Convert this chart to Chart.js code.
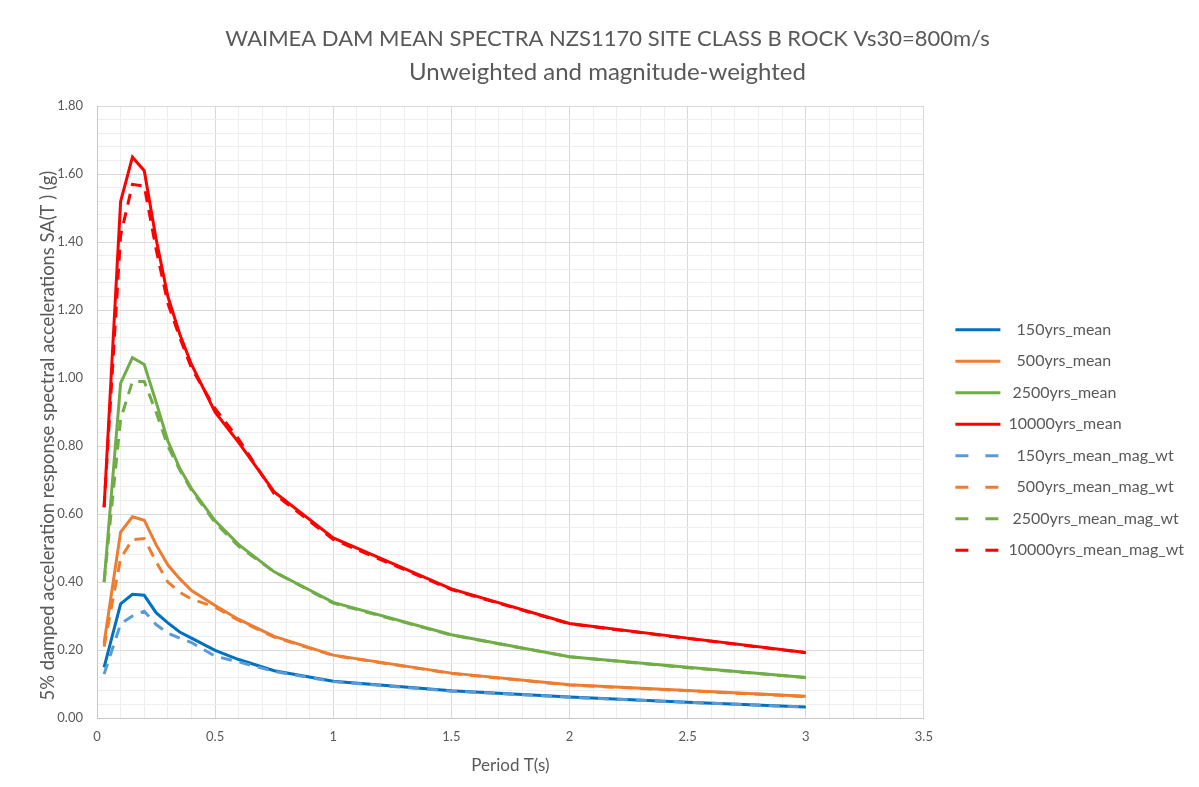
<!DOCTYPE html>
<html>
<head>
<meta charset="utf-8">
<title>Waimea Dam mean spectra</title>
<script src="https://cdn.jsdelivr.net/npm/chart.js@4.4.1/dist/chart.umd.min.js"></script>
<style>
  html, body { margin: 0; padding: 0; background: #fff; }
  #wrap { width: 1199px; height: 787px; }
</style>
</head>
<body>
<div id="wrap"><canvas id="spectra"></canvas></div>
<script>
// Period T(s) of each spectral ordinate
var periods = [0.03, 0.1, 0.15, 0.2, 0.25, 0.3, 0.35, 0.4, 0.5, 0.6, 0.75, 1.0, 1.5, 2.0, 2.5, 3.0];

// SA(T) in g
var mean150   = [0.149, 0.336, 0.364, 0.361, 0.310, 0.280, 0.253, 0.235, 0.199, 0.172, 0.139, 0.108, 0.080, 0.062, 0.046, 0.032];
var mean500   = [0.220, 0.547, 0.592, 0.582, 0.510, 0.450, 0.410, 0.375, 0.331, 0.290, 0.240, 0.185, 0.132, 0.098, 0.081, 0.064];
var mean2500  = [0.400, 0.985, 1.060, 1.040, 0.930, 0.815, 0.735, 0.675, 0.580, 0.510, 0.430, 0.340, 0.245, 0.180, 0.149, 0.119];
var mean10000 = [0.620, 1.520, 1.650, 1.610, 1.410, 1.240, 1.130, 1.040, 0.900, 0.810, 0.665, 0.530, 0.380, 0.278, 0.235, 0.193];

var magwt150   = [0.129, 0.277, 0.300, 0.314, 0.275, 0.250, 0.235, 0.222, 0.182, 0.165, 0.137, 0.107, 0.079, 0.061, 0.046, 0.032];
var magwt500   = [0.210, 0.470, 0.525, 0.528, 0.460, 0.400, 0.370, 0.350, 0.326, 0.287, 0.238, 0.184, 0.131, 0.097, 0.080, 0.063];
var magwt2500  = [0.400, 0.880, 0.990, 0.990, 0.900, 0.800, 0.730, 0.670, 0.575, 0.505, 0.430, 0.338, 0.244, 0.180, 0.148, 0.119];
var magwt10000 = [0.620, 1.420, 1.570, 1.565, 1.380, 1.220, 1.120, 1.030, 0.910, 0.820, 0.660, 0.525, 0.378, 0.277, 0.234, 0.192];

var seriesNames = ['  150yrs_mean', '  500yrs_mean', ' 2500yrs_mean', '10000yrs_mean',
                   '  150yrs_mean_mag_wt', '  500yrs_mean_mag_wt', ' 2500yrs_mean_mag_wt', '10000yrs_mean_mag_wt'];
var seriesValues = [mean150, mean500, mean2500, mean10000, magwt150, magwt500, magwt2500, magwt10000];
var seriesColors = ['#0070C0', '#ED7D31', '#70AD47', '#FF0000', '#5B9BD5', '#ED7D31', '#70AD47', '#FF0000'];

var textGrey = '#595959';
var fontName = 'Lato, "Open Sans", sans-serif';

function toPoints(vals) {
    var pts = [];
    for (var i = 0; i < periods.length; i++) {
        pts.push({x: periods[i], y: vals[i]});
    }
    return pts;
}

var datasets = [];
for (var i = 0; i < seriesNames.length; i++) {
    var dashed = i >= 4;
    datasets.push({
        label: seriesNames[i],
        data: toPoints(seriesValues[i]),
        borderColor: seriesColors[i],
        backgroundColor: seriesColors[i],
        borderWidth: 3,
        borderDash: dashed ? [11, 8] : [],
        pointRadius: 0,
        tension: 0,
        // dashed series sit on top of the solid ones
        order: dashed ? 0 : 1
    });
}

// legend sits a bit lower and further right than chart.js puts it
var legendNudge = {
    id: 'legendNudge',
    afterLayout: function(chart) {
        var lg = chart.legend;
        lg.left += 16;
        lg.right += 16;
        lg.top += 42;
        lg.bottom += 42;
    }
};

var ctx = document.getElementById('spectra').getContext('2d');

var chart1 = new Chart(ctx, {
    type: 'line',
    data: { datasets: datasets },
    plugins: [legendNudge],
    options: {
        responsive: true,
        maintainAspectRatio: false,
        animation: false,
        devicePixelRatio: 1,
        layout: { padding: { left: 37, right: 21, top: 20, bottom: 11 } },
        plugins: {
            title: {
                display: true,
                text: 'WAIMEA DAM MEAN SPECTRA NZS1170 SITE CLASS B ROCK Vs30=800m/s',
                color: textGrey,
                font: { family: fontName, size: 22, weight: 'normal' },
                padding: { top: 6, bottom: 4 }
            },
            subtitle: {
                display: true,
                text: 'Unweighted and magnitude-weighted',
                color: textGrey,
                font: { family: fontName, size: 24, weight: 'normal' },
                padding: { top: 1, bottom: 20 }
            },
            legend: {
                position: 'right',
                labels: {
                    usePointStyle: true,
                    pointStyle: 'line',
                    pointStyleWidth: 45,
                    padding: 15.5,
                    color: textGrey,
                    font: { family: fontName, size: 16 },
                    sort: function(a, b) { return a.datasetIndex - b.datasetIndex; },
                    generateLabels: function(chart) {
                        var items = Chart.defaults.plugins.legend.labels.generateLabels(chart);
                        items.forEach(function(it) {
                            it.lineWidth = 3;
                            it.lineDash = it.datasetIndex >= 4 ? [13, 17] : [];
                        });
                        return items;
                    }
                }
            },
            tooltip: { enabled: false }
        },
        scales: {
            x: {
                type: 'linear',
                min: 0,
                max: 3.5,
                ticks: {
                    stepSize: 0.1,
                    autoSkip: false,
                    maxRotation: 0,
                    padding: 11,
                    color: textGrey,
                    font: { family: fontName, size: 13 },
                    callback: function(value) {
                        var v = Math.round(value * 10);
                        return v % 5 === 0 ? String(v / 10) : '';
                    }
                },
                grid: {
                    drawTicks: false,
                    color: function(c) {
                        return Math.round(c.tick.value * 10) % 5 === 0 ? '#d9d9d9' : '#eeeeee';
                    }
                },
                border: { color: '#c8c8c8' },
                title: {
                    display: true,
                    text: 'Period T(s)',
                    color: textGrey,
                    font: { family: fontName, size: 17 },
                    padding: { top: 0, bottom: 0 }
                }
            },
            y: {
                min: 0,
                max: 1.8,
                afterFit: function(scale) { scale.width = 60; },
                ticks: {
                    stepSize: 0.04,
                    autoSkip: false,
                    padding: 14,
                    color: textGrey,
                    font: { family: fontName, size: 13 },
                    callback: function(value) {
                        var v = Math.round(value * 100);
                        return v % 20 === 0 ? (v / 100).toFixed(2) : '';
                    }
                },
                grid: {
                    drawTicks: false,
                    color: function(c) {
                        return Math.round(c.tick.value * 100) % 20 === 0 ? '#d9d9d9' : '#eeeeee';
                    }
                },
                border: { color: '#c8c8c8' },
                title: {
                    display: true,
                    text: '5% damped acceleration response spectral accelerations SA(T ) (g)          ',
                    color: textGrey,
                    font: { family: fontName, size: 18.4 },
                    padding: { top: 0, bottom: 0 }
                }
            }
        }
    }
});
</script>
</body>
</html>
